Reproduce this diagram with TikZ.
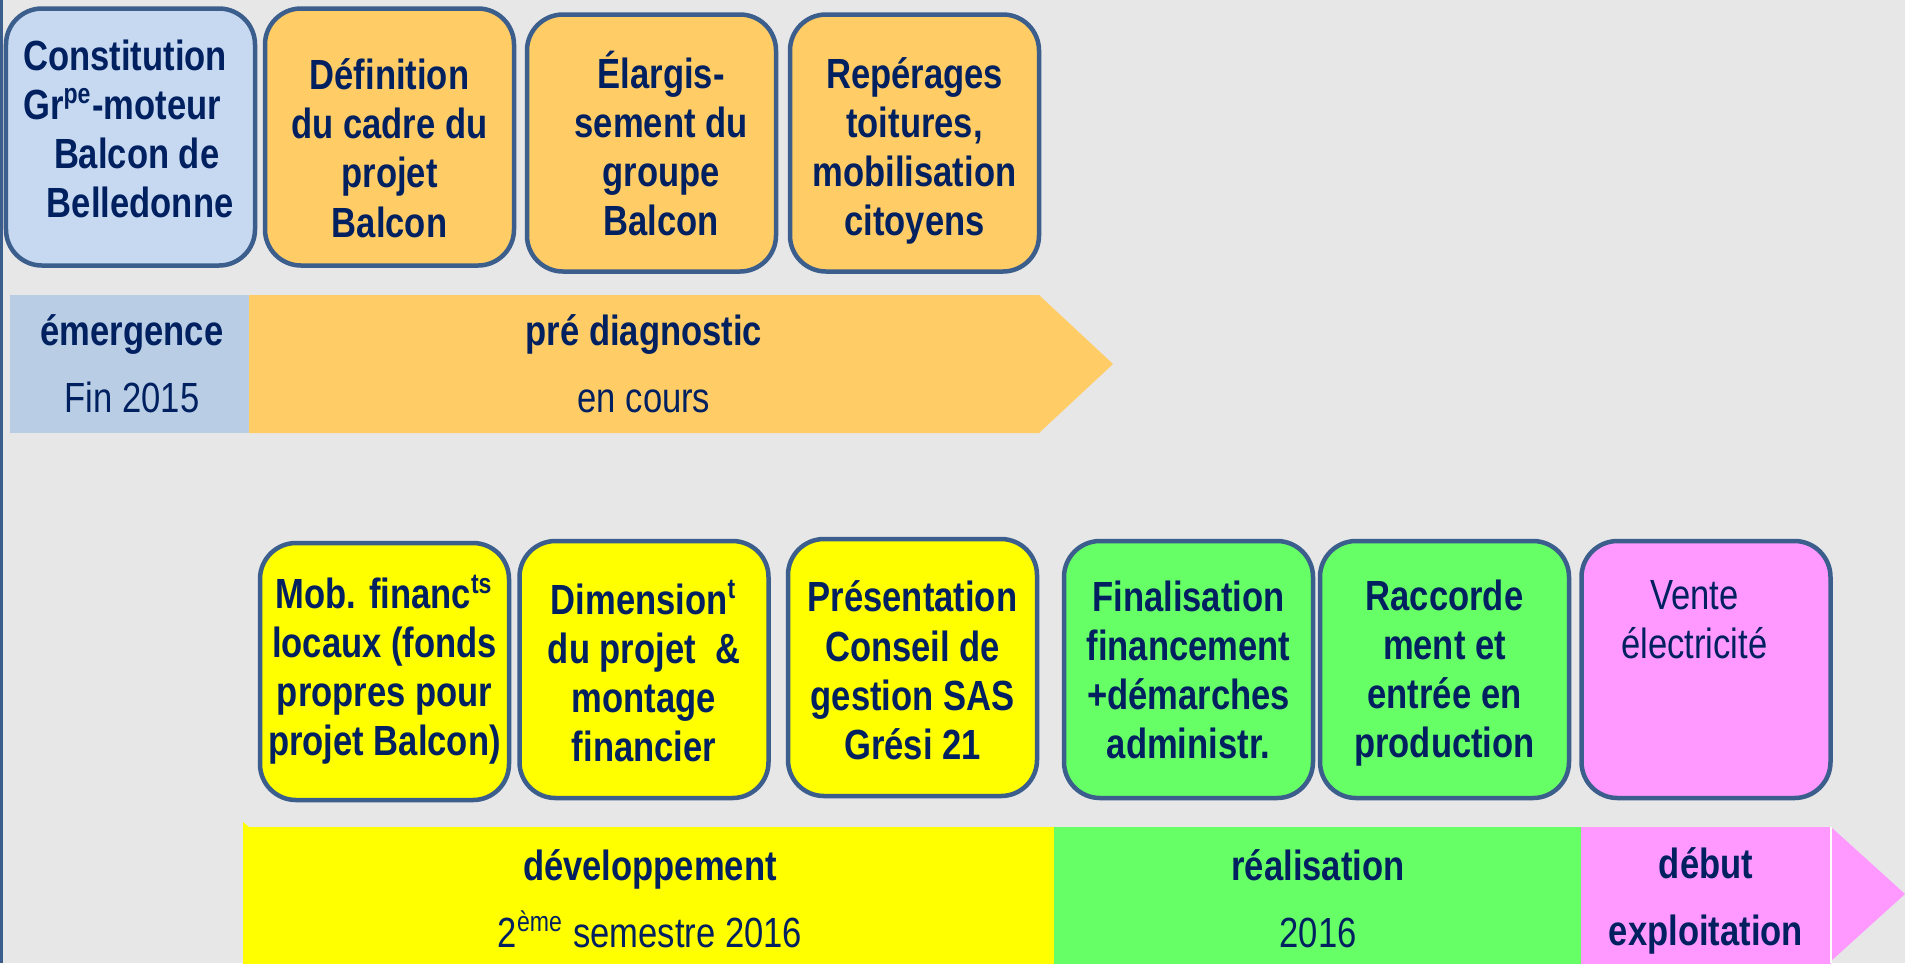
\documentclass[tikz,border=0pt]{standalone}
\usepackage{fontspec}
\setmainfont[FakeStretch=0.82]{Liberation Sans}
\definecolor{bggray}{HTML}{E7E7E7}
\definecolor{edgeblue}{HTML}{3B5E8C}
\definecolor{boxblue}{HTML}{C6D9F1}
\definecolor{barblue}{HTML}{B9CDE5}
\definecolor{phaseorange}{HTML}{FFCC66}
\definecolor{phaseyellow}{HTML}{FFFF00}
\definecolor{phasegreen}{HTML}{66FF66}
\definecolor{phasepink}{HTML}{FF99FF}
\definecolor{navy}{HTML}{002060}
\begin{document}
\begin{tikzpicture}
		\useasboundingbox (0,0) rectangle (19.05,-9.63);
		\fill[bggray] (0,0) rectangle (19.05,-9.63);
		\clip (0,0) rectangle (19.05,-9.63);
		\draw[edgeblue, line width=0.03cm] (0.015,0) -- (0.015,-9.63);
		\fill[barblue] (0.10,-2.95) rectangle (2.49,-4.33);
		\fill[phaseorange] (2.49,-2.95) -- (10.39,-2.95) -- (11.13,-3.64) -- (10.39,-4.33) -- (2.49,-4.33) -- cycle;
		\fill[phaseyellow] (2.43,-8.22) -- (2.49,-8.27) -- (10.54,-8.27) -- (10.54,-9.70) -- (2.43,-9.70) -- cycle;
		\fill[phasegreen] (10.54,-8.27) rectangle (15.81,-9.70);
		\fill[phasepink] (15.81,-8.27) rectangle (18.31,-9.70);
		\fill[phasepink] (18.31,-8.27) -- (19.05,-8.94) -- (18.31,-9.61) -- cycle;
		\draw[white, line width=0.02cm] (18.31,-8.27) -- (18.31,-9.63);
		\begin{scope}[every node/.style={draw=edgeblue, line width=0.045cm, rounded corners=0.36cm, minimum width=2.49cm, minimum height=2.57cm, inner sep=0pt, align=center, text=navy, font=\fontsize{12}{13.95}\selectfont\bfseries, text height=59.7pt, text depth=7pt}]
			\node[fill=boxblue, text height=52.7pt] (constit) at (1.305,-1.37) {Constitution\kern3.1pt\\Gr\textsuperscript{pe}-moteur\kern4.8pt\\\kern3.5pt Balcon de\\\kern5.5pt Belledonne};
			\node[fill=phaseorange, text height=63.9pt] (cadre) at (3.895,-1.37) {Définition\\du cadre du\\projet\\Balcon};
			\node[fill=phaseorange] (elarg) at (6.515,-1.43) {\kern5.5pt Élargis-\\\kern5.5pt sement du\\\kern5.5pt groupe\\\kern5.5pt Balcon};
			\node[fill=phaseorange] (reperage) at (9.145,-1.43) {Repérages\\toitures,\\mobilisation\\citoyens};
			\node[fill=phaseyellow, text height=54.9pt] (mobfin) at (3.845,-6.715) {Mob. financ\textsuperscript{ts}\\locaux (fonds\\propres pour\\projet Balcon)};
			\node[fill=phaseyellow, text height=59.2pt] (dimens) at (6.44,-6.695) {Dimension\textsuperscript{t}\\du projet\ \ \&\\montage\\financier};
			\node[fill=phaseyellow, text height=59.1pt] (present) at (9.125,-6.675) {Présentation\\Conseil de\\gestion SAS\\Grési 21};
			\node[fill=phasegreen, text height=57.5pt] (finalis) at (11.885,-6.695) {Finalisation\\financement\\+démarches\\administr.};
			\node[fill=phasegreen, text height=57.1pt] (raccord) at (14.445,-6.695) {Raccorde\\ment et\\entrée en\\production};
			\node[fill=phasepink, font=\fontsize{12}{13.95}\selectfont, text height=0.9pt] (vente) at (17.06,-6.695) {Vente\kern6.6pt\\électricité\kern6.6pt};
		\end{scope}
		\begin{scope}[every node/.style={align=center, inner sep=0pt, text=navy, font=\fontsize{12}{13.95}\selectfont}]
			\node (emerg) at (1.32,-3.64) {\textbf{émergence}\\[0.18cm]Fin 2015};
			\node (prediag) at (6.44,-3.64) {\textbf{pré diagnostic}\\[0.18cm]en cours};
			\node (devel) at (6.50,-8.985) {\textbf{développement}\\[0.18cm]2\textsuperscript{ème} semestre 2016};
			\node (realis) at (13.18,-8.985) {\textbf{réalisation}\\[0.18cm]2016};
			\node (debut) at (17.06,-9.01) {\textbf{début}\\[0.18cm]\textbf{exploitation}};
		\end{scope}
	\end{tikzpicture}
\end{document}
